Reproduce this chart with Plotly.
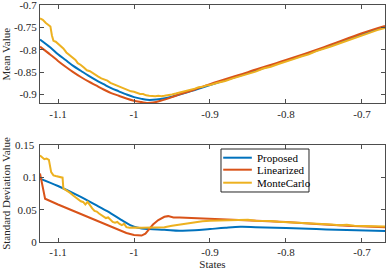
import plotly.graph_objects as go

# ---------------- data ----------------
mean_prop_x = [-1.1237, -1.11, -1.10, -1.09, -1.08, -1.07, -1.06, -1.05, -1.04, -1.03, -1.02, -1.01, -1.00,
               -0.99, -0.983, -0.975, -0.965, -0.95, -0.94, -0.92, -0.90, -0.85, -0.80, -0.75, -0.70, -0.6697]
mean_prop_y = [-0.777, -0.795, -0.810, -0.823, -0.836, -0.847, -0.858, -0.868, -0.877, -0.886, -0.893, -0.900, -0.906,
               -0.910, -0.912, -0.912, -0.910, -0.905, -0.900, -0.890, -0.879, -0.852, -0.825, -0.796, -0.765, -0.749]

mean_lin_x = [-1.1237, -1.11, -1.10, -1.09, -1.08, -1.07, -1.06, -1.05, -1.04, -1.03, -1.02, -1.01, -1.00,
              -0.99, -0.983, -0.975, -0.965, -0.95, -0.94, -0.92, -0.90, -0.85, -0.80, -0.75, -0.70, -0.6697]
mean_lin_y = [-0.793, -0.811, -0.825, -0.838, -0.850, -0.861, -0.871, -0.880, -0.889, -0.897, -0.903, -0.909, -0.914,
              -0.917, -0.919, -0.918, -0.914, -0.906, -0.900, -0.889, -0.877, -0.850, -0.823, -0.794, -0.763, -0.747]

mean_mc_x = [-1.1237, -1.120, -1.116, -1.113, -1.110, -1.108, -1.106, -1.103, -1.100, -1.097, -1.093, -1.089,
             -1.085, -1.081, -1.077, -1.074, -1.070, -1.066, -1.062, -1.058, -1.054, -1.050, -1.047, -1.043,
             -1.039, -1.035, -1.031, -1.027, -1.024, -1.020, -1.016, -1.012, -1.008, -1.004, -1.000, -0.996,
             -0.992, -0.988, -0.984, -0.980, -0.976, -0.972, -0.968, -0.964, -0.960, -0.955, -0.950, -0.945,
             -0.940, -0.935, -0.930, -0.925, -0.920, -0.915, -0.910, -0.905, -0.900, -0.89, -0.88, -0.87,
             -0.86, -0.85, -0.84, -0.83, -0.82, -0.81, -0.80, -0.79, -0.78, -0.77, -0.76, -0.75, -0.74, -0.73,
             -0.72, -0.71, -0.70, -0.69, -0.68, -0.6697]
mean_mc_y = [-0.730, -0.733, -0.740, -0.745, -0.748, -0.768, -0.780, -0.782, -0.786, -0.790, -0.797, -0.806,
             -0.812, -0.818, -0.823, -0.830, -0.834, -0.840, -0.846, -0.848, -0.853, -0.857, -0.860, -0.864,
             -0.866, -0.869, -0.874, -0.877, -0.879, -0.882, -0.885, -0.888, -0.891, -0.893, -0.894, -0.897,
             -0.899, -0.899, -0.902, -0.903, -0.904, -0.904, -0.903, -0.904, -0.903, -0.902, -0.900, -0.898,
             -0.896, -0.893, -0.891, -0.889, -0.887, -0.884, -0.883, -0.880, -0.879, -0.874, -0.870, -0.864,
             -0.859, -0.854, -0.849, -0.842, -0.838, -0.832, -0.827, -0.821, -0.815, -0.810, -0.803, -0.798,
             -0.792, -0.786, -0.780, -0.773, -0.768, -0.762, -0.756, -0.751]

std_prop_x = [-1.1237, -1.10, -1.074, -1.047, -1.03, -1.015, -1.005, -0.995, -0.98, -0.96, -0.94, -0.92,
              -0.90, -0.88, -0.86, -0.84, -0.80, -0.76, -0.72, -0.6697]
std_prop_y = [0.098, 0.0866, 0.072, 0.055, 0.044, 0.033, 0.026, 0.022, 0.020, 0.019, 0.0175, 0.018,
              0.020, 0.022, 0.0235, 0.023, 0.0215, 0.020, 0.0185, 0.017]

std_lin_x = [-1.1237, -1.117, -1.10, -1.08, -1.06, -1.04, -1.02, -1.01, -1.00, -0.995, -0.99, -0.985,
             -0.98, -0.975, -0.968, -0.96, -0.955, -0.948, -0.94, -0.92, -0.90, -0.88, -0.85, -0.80,
             -0.76, -0.72, -0.6697]
std_lin_y = [0.106, 0.067, 0.058, 0.048, 0.038, 0.028, 0.018, 0.014, 0.011, 0.0105, 0.010, 0.013,
             0.020, 0.027, 0.034, 0.039, 0.040, 0.038, 0.038, 0.037, 0.036, 0.035, 0.034, 0.031,
             0.028, 0.025, 0.023]

std_mc_x = [-1.1237, -1.121, -1.118, -1.115, -1.112, -1.109, -1.106, -1.103, -1.100, -1.097, -1.094,
            -1.093, -1.090, -1.087, -1.084, -1.080, -1.076, -1.073, -1.070, -1.067, -1.064, -1.061,
            -1.058, -1.055, -1.052, -1.049, -1.046, -1.043, -1.040, -1.037, -1.034, -1.031, -1.028,
            -1.025, -1.022, -1.019, -1.016, -1.013, -1.010, -1.006, -1.000, -0.99, -0.98, -0.97, -0.96,
            -0.95, -0.94, -0.93, -0.92, -0.91, -0.90, -0.89, -0.88, -0.87, -0.86, -0.85, -0.84, -0.83,
            -0.82, -0.81, -0.80, -0.79, -0.78, -0.77, -0.76, -0.75, -0.74, -0.73, -0.72, -0.71, -0.70,
            -0.69, -0.68, -0.6697]
std_mc_y = [0.134, 0.131, 0.128, 0.129, 0.127, 0.108, 0.103, 0.102, 0.101, 0.100, 0.0995,
            0.083, 0.081, 0.078, 0.076, 0.072, 0.068, 0.065, 0.063, 0.062, 0.058, 0.062,
            0.056, 0.052, 0.048, 0.047, 0.044, 0.042, 0.040, 0.037, 0.038, 0.034, 0.031,
            0.030, 0.031, 0.028, 0.026, 0.028, 0.023, 0.022, 0.0225, 0.022, 0.0225, 0.022, 0.023,
            0.025, 0.027, 0.029, 0.031, 0.032, 0.033, 0.0335, 0.034, 0.0345, 0.034, 0.0345, 0.033, 0.033,
            0.0325, 0.0315, 0.031, 0.0305, 0.029, 0.0295, 0.028, 0.0275, 0.027, 0.026, 0.0265, 0.025, 0.025,
            0.0245, 0.025, 0.024]

x_tickvals = [-1.1, -1.0, -0.9, -0.8, -0.7]
x_ticktext = ["-1.1", "-1", "-0.9", "-0.8", "-0.7"]
ym_tickvals = [-0.9, -0.85, -0.8, -0.75, -0.7]
ym_ticktext = ["-0.9", "-0.85", "-0.8", "-0.75", "-0.7"]
ys_tickvals = [0, 0.05, 0.1, 0.15]
ys_ticktext = ["0", "0.05", "0.1", "0.15"]

names = ["Proposed", "Linearized", "MonteCarlo"]
colors = ["#0072BD", "#D95319", "#EDB120"]

# ---------------- figure ----------------
fig = go.Figure()
mean_sets = [(mean_prop_x, mean_prop_y, "spline"), (mean_lin_x, mean_lin_y, "spline"), (mean_mc_x, mean_mc_y, "linear")]
std_sets = [(std_prop_x, std_prop_y, "spline"), (std_lin_x, std_lin_y, "linear"), (std_mc_x, std_mc_y, "linear")]
for (x, y, shp), nm, c in zip(mean_sets, names, colors):
    fig.add_trace(go.Scatter(x=x, y=y, mode="lines", name=nm, showlegend=False,
                             line=dict(color=c, width=2, shape=shp), xaxis="x", yaxis="y"))
for (x, y, shp), nm, c in zip(std_sets, names, colors):
    fig.add_trace(go.Scatter(x=x, y=y, mode="lines", name=nm, showlegend=False,
                             line=dict(color=c, width=2, shape=shp), xaxis="x2", yaxis="y2"))

FONT = "'Liberation Serif', 'DejaVu Serif', serif"
axcol = "#4d4d4d"
common = dict(showline=True, linecolor=axcol, linewidth=1, mirror="ticks", ticks="inside",
              ticklen=4, tickcolor=axcol, showgrid=False, zeroline=False, automargin=False,
              ticklabeloverflow="allow",
              tickfont=dict(family=FONT, size=11, color="#262626"))

# compact legend box (paper coordinates), like the compact MATLAB legend
LEG_X0, LEG_X1, LEG_Y0, LEG_Y1 = 0.5246, 0.7797, 0.211, 0.3924
LEG_ROWS = [0.3557, 0.3051, 0.2502]
LEG_LINE_X = (0.531, 0.614)
LEG_TEXT_X = 0.623
shapes = [dict(type="rect", xref="paper", yref="paper", x0=LEG_X0, x1=LEG_X1, y0=LEG_Y0, y1=LEG_Y1,
               line=dict(color="#262626", width=1), fillcolor="white", layer="above")]
annotations = []
for nm, c, ry in zip(names, colors, LEG_ROWS):
    shapes.append(dict(type="line", xref="paper", yref="paper", x0=LEG_LINE_X[0], x1=LEG_LINE_X[1],
                       y0=ry, y1=ry, line=dict(color=c, width=2), layer="above"))
    annotations.append(dict(text=nm, xref="paper", yref="paper", x=LEG_TEXT_X, y=ry, xanchor="left",
                            yanchor="middle", showarrow=False,
                            font=dict(family=FONT, size=11, color="#000000")))
# top tick label of the lower axis (plotly drops it at the subplot edge)
annotations.append(dict(text=ys_ticktext[-1], xref="paper", yref="y2", x=0, y=ys_tickvals[-1],
                        xanchor="right", yanchor="middle", xshift=-3, showarrow=False,
                        font=dict(family=FONT, size=11, color="#262626")))

xr = [-1.1237, -0.6697]
fig.update_layout(
    width=386, height=271,
    margin=dict(l=40, r=1, t=5, b=29),
    paper_bgcolor="white", plot_bgcolor="white",
    font=dict(family=FONT, size=11, color="#262626"),
    showlegend=False,
    xaxis=dict(domain=[0, 1], anchor="y", range=xr, tickvals=x_tickvals, ticktext=x_ticktext, **common),
    yaxis=dict(domain=[0.585, 1], anchor="x", range=[-0.92, -0.6998], tickvals=ym_tickvals, ticktext=ym_ticktext,
               title=dict(text="Mean Value", font=dict(family=FONT, size=11), standoff=4), **common),
    xaxis2=dict(domain=[0, 1], anchor="y2", range=xr, tickvals=x_tickvals, ticktext=x_ticktext,
                title=dict(text="States", font=dict(family=FONT, size=11), standoff=0), **common),
    yaxis2=dict(domain=[0, 0.41], anchor="x2", range=[0, 0.1503], tickvals=ys_tickvals[:-1],
                ticktext=ys_ticktext[:-1],
                title=dict(text="Standard Deviation Value", font=dict(family=FONT, size=11), standoff=4), **common),
    shapes=shapes,
    annotations=annotations,
)

fig.write_html("out.html", config={"displayModeBar": False},
               post_script="document.body.style.margin='0';document.body.style.padding='0';")
